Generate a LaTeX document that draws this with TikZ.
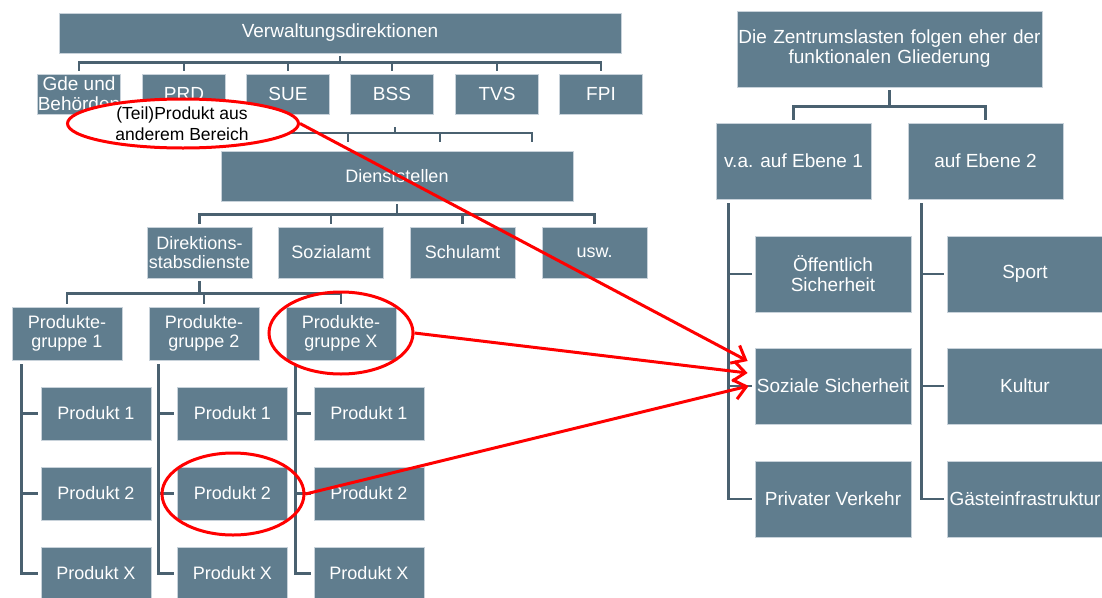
\documentclass[tikz,border=0pt]{standalone}
\usepackage{fontspec}
\setmainfont{Liberation Sans}
\usetikzlibrary{shapes}
\usetikzlibrary{arrows.meta}
\definecolor{boxfill}{RGB}{96,125,142}
\definecolor{boxline}{RGB}{74,97,112}
\definecolor{boxedge}{RGB}{200,210,218}
\tikzset{
	node_box/.style = {
		rectangle,
		align=center,
		inner sep=0pt,
		text=white,
		fill=boxfill,
		draw=boxedge,
		line width=0.8pt,
		font=\fontsize{18}{19}\selectfont
	},
	node_head/.style = {
		node_box,
		font=\fontsize{19}{20}\selectfont
	},
	node_top/.style = {
		node_head,
		minimum width=83pt,
		minimum height=40pt
	},
	node_amt/.style = {
		node_box,
		minimum width=105pt,
		minimum height=51pt
	},
	node_prod/.style = {
		node_box,
		minimum width=110pt,
		minimum height=53pt
	},
	node_fn/.style = {
		node_head,
		minimum width=156pt,
		minimum height=76pt
	},
	node_ring/.style = {
		ellipse,
		draw=red,
		line width=3pt,
		inner sep=0pt
	},
	node_note/.style = {
		align=center,
		inner sep=0pt,
		text=black,
		font=\fontsize{17.5}{21}\selectfont
	},
	fork/.style = {
		draw=boxline,
		line width=2.6pt,
		shorten <=3pt,
		shorten >=3pt
	},
	bracket/.style = {
		draw=boxline,
		line width=2.6pt
	},
	pointer/.style = {
		draw=red,
		line width=3pt,
		-{Straight Barb[length=12pt,width=20pt]}
	},
}
\begin{document}
\begin{tikzpicture}[x=1pt,y=-1pt]
\useasboundingbox (0,0) rectangle (1102,597);

\node [node_head, minimum width=562pt, minimum height=40pt] (vd) at (340,33) {Verwaltungsdirektionen};
\node [node_top] (gde) at (79,94) {Gde und\\Behörden};
\node [node_top] (prd) at (184,94) {PRD};
\node [node_top] (sue) at (288,94) {SUE};
\node [node_top] (bss) at (392,94) {BSS};
\node [node_top] (tvs) at (497,94) {TVS};
\node [node_top] (fpi) at (601,94) {FPI};

\node [node_box, minimum width=352pt, minimum height=50pt] (dst) at (397,176) {Dienststellen};
\node [node_amt] (dsd) at (199.5,252.5) {Direktions-\\stabsdienste};
\node [node_amt] (soa) at (331,252.5) {Sozialamt};
\node [node_amt] (sca) at (462.5,252.5) {Schulamt};
\node [node_amt] (usw) at (594.5,252.5) {usw.};

\node [node_prod] (pg1) at (67,333.5) {Produkte-\\gruppe 1};
\node [node_prod] (pg2) at (204,333.5) {Produkte-\\gruppe 2};
\node [node_prod] (pgx) at (341,333.5) {Produkte-\\gruppe X};

\node [node_prod] (p11) at (96,413.5) {Produkt 1};
\node [node_prod] (p12) at (96,493.5) {Produkt 2};
\node [node_prod] (p1x) at (96,573.5) {Produkt X};
\node [node_prod] (p21) at (232.5,413.5) {Produkt 1};
\node [node_prod] (p22) at (232.5,493.5) {Produkt 2};
\node [node_prod] (p2x) at (232.5,573.5) {Produkt X};
\node [node_prod] (px1) at (369,413.5) {Produkt 1};
\node [node_prod] (px2) at (369,493.5) {Produkt 2};
\node [node_prod] (pxx) at (369,573.5) {Produkt X};

\node [node_head, text width=305pt, minimum width=305pt, minimum height=76pt] (zl) at (889.5,49) {Die Zentrumslasten folgen eher der\\funktionalen Gliederung};
\node [node_head, minimum width=155pt, minimum height=76pt] (eb1) at (793.5,161) {v.a. auf Ebene 1};
\node [node_head, minimum width=155pt, minimum height=76pt] (eb2) at (985.5,161) {auf Ebene 2};
\node [node_fn] (oes) at (833,274) {Öffentlich\\Sicherheit};
\node [node_fn] (soz) at (833,386) {Soziale Sicherheit};
\node [node_fn] (pvk) at (833,499) {Privater Verkehr};
\node [node_fn] (spo) at (1025,274) {Sport};
\node [node_fn] (kul) at (1025,386) {Kultur};
\node [node_fn] (gin) at (1025,499) {Gästeinfrastruktur};

\foreach \c in {gde,prd,sue,bss,tvs,fpi}
	\draw [fork] (vd.south) -- ++(0,9) -| (\c.north);

\coordinate (hub) at (395,124);
\coordinate (hub_a) at (257,145);
\coordinate (hub_b) at (348,145);
\coordinate (hub_c) at (440,145);
\coordinate (hub_d) at (532,145);
\foreach \c in {hub_a,hub_b,hub_c,hub_d}
	\draw [fork] (hub) -- ++(0,9) -| (\c);

\foreach \c in {dsd,soa,sca,usw}
	\draw [fork] (dst.south) -- ++(0,13) -| (\c.north);
\foreach \c in {pg1,pg2,pgx}
	\draw [fork] (dsd.south) -- ++(0,15) -| (\c.north);

\foreach \g/\p in {pg1/p11,pg1/p12,pg1/p1x,pg2/p21,pg2/p22,pg2/p2x,pgx/px1,pgx/px2,pgx/pxx}
	\draw [bracket] ([xshift=10pt,yshift=-4pt]\g.south west) |- ([xshift=-3pt]\p.west);

\foreach \c in {eb1,eb2}
	\draw [fork] (zl.south) -- ++(0,19) -| (\c.north);
\foreach \g/\p in {eb1/oes,eb1/soz,eb1/pvk}
	\draw [bracket] ([xshift=13pt,yshift=-4pt]\g.south west) |- ([xshift=-3pt]\p.west);
\foreach \g/\p in {eb2/spo,eb2/kul,eb2/gin}
	\draw [bracket] ([xshift=14pt,yshift=-4pt]\g.south west) |- ([xshift=-3pt]\p.west);

\node [node_ring, fill=white, minimum width=231pt, minimum height=49pt] (ring_teil) at (183,123.5) {};
\node [node_note] (note_teil) at (182,124) {(Teil)Produkt aus\\anderem Bereich};
\node [node_ring, minimum width=144pt, minimum height=82pt] (ring_pgx) at (341,333) {};
\node [node_ring, minimum width=142pt, minimum height=82pt] (ring_p2) at (233,494) {};

\draw [pointer] (ring_teil.east) -- ([xshift=-7pt,yshift=25pt]soz.west);
\draw [pointer] (ring_pgx.east) -- ([xshift=-7pt,yshift=13pt]soz.west);
\draw [pointer] (ring_p2.east) -- ([xshift=-6pt]soz.west);
\end{tikzpicture}
\end{document}
